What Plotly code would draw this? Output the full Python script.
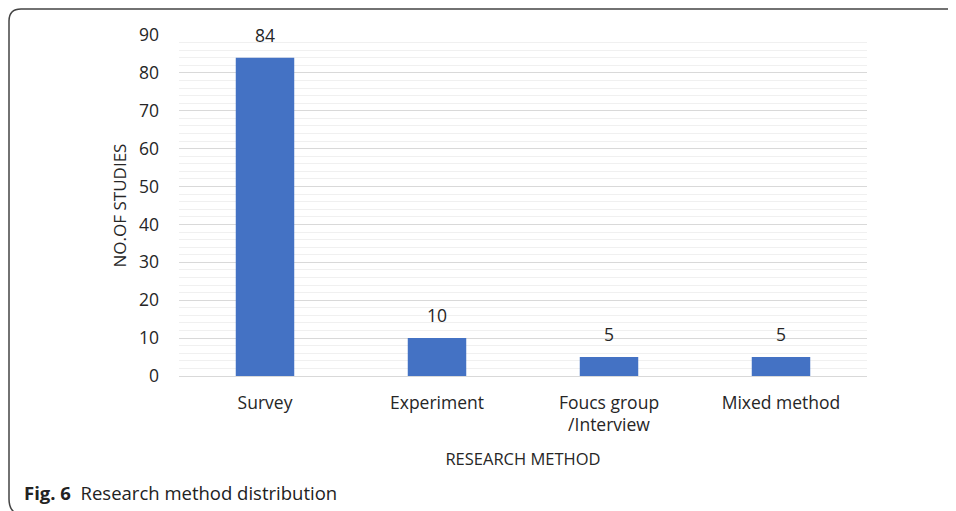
import plotly.graph_objects as go

categories = ["Survey", "Experiment", "Foucs group<br>/Interview", "Mixed method"]
values = [84, 10, 5, 5]
y_ticks = [0, 10, 20, 30, 40, 50, 60, 70, 80, 90]

# page is rendered with an 8px body margin, so the figure is 8px smaller
OFF = 8
W, H = 956 - OFF, 511 - OFF
L, R, T, B = 179 - OFF, 867 - OFF, 35 - OFF, 376 - OFF

def px(x):
    return (x - OFF - L) / (R - L)

def py(y):
    return (B - (y - OFF)) / (B - T)

fig = go.Figure()
fig.add_trace(go.Bar(
    x=categories, y=values,
    marker=dict(color="#4472C4", line=dict(width=0)),
    cliponaxis=False,
))

annotations = [dict(
    x=c, y=v, xref="x", yref="y", text=str(v), showarrow=False,
    yanchor="bottom", yshift=9,
    font=dict(family="Open Sans", size=17.5, color="#262626"),
) for c, v in zip(categories, values)]

annotations.append(dict(
    x=px(22), y=py(492), xref="paper", yref="paper",
    xanchor="left", yanchor="middle", showarrow=False,
    text="<b>Fig. 6</b>  Research method distribution",
    font=dict(family="Open Sans", size=18.5, color="#222222"),
))

frame = (f"M {px(960)},{py(9)} L {px(21)},{py(9)} "
         f"Q {px(9)},{py(9)} {px(9)},{py(21)} "
         f"L {px(9)},{py(499)} Q {px(9)},{py(508)} {px(14)},{py(512)}")

fig.update_layout(
    width=W, height=H,
    margin=dict(l=L, r=W - R, t=T, b=H - B),
    paper_bgcolor="white", plot_bgcolor="white",
    bargap=0.66,
    showlegend=False,
    font=dict(family="Open Sans", size=17.5, color="#262626"),
    xaxis=dict(
        title=dict(text="RESEARCH METHOD", font=dict(size=16.5), standoff=18),
        tickfont=dict(size=17.5), showline=False, ticks="",
        ticklabelstandoff=14,
    ),
    yaxis=dict(
        range=[0, 90], tickvals=y_ticks,
        title=dict(text="NO.OF STUDIES", font=dict(size=17), standoff=8),
        tickfont=dict(size=17.5),
        ticklabelstandoff=19,
        gridcolor="#d9d9d9", gridwidth=1,
        zeroline=True, zerolinecolor="#d9d9d9", zerolinewidth=1,
        minor=dict(dtick=2, showgrid=True, gridcolor="#f0f0f0", gridwidth=1),
        ticks="", showline=False,
    ),
    shapes=[dict(type="path", xref="paper", yref="paper", path=frame,
                 line=dict(color="#444444", width=1.5))],
    annotations=annotations,
)

fig.write_html("out.html")
